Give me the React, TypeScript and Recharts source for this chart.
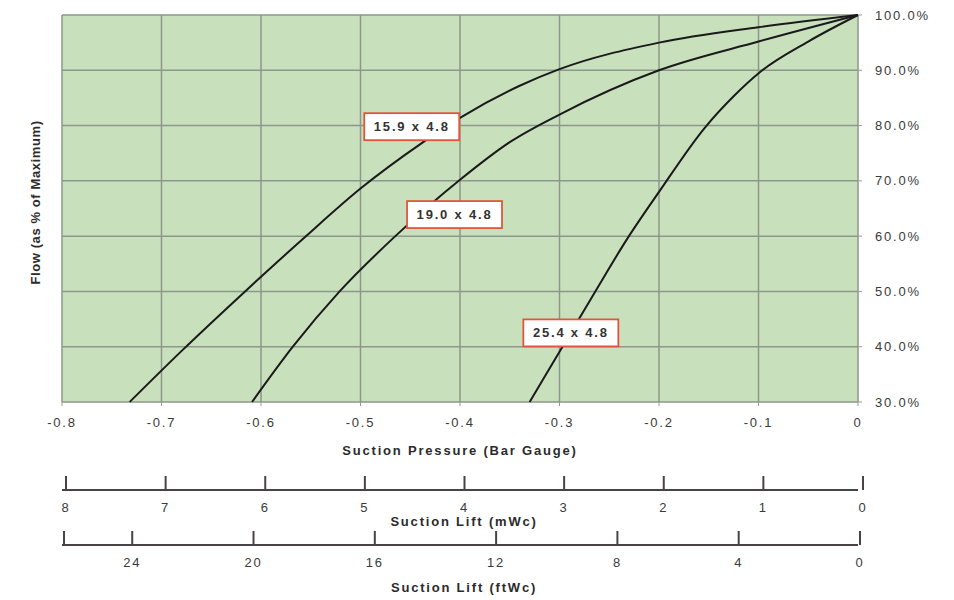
import React from 'react'
import { CartesianGrid, Line, LineChart, ReferenceDot, XAxis, YAxis } from 'recharts'

// suction pressure (bar g) -> flow (% of max), one list per nozzle size
const curve159 = [
  { p: -0.732, f: 30 }, { p: -0.68, f: 39.2 }, { p: -0.616, f: 50 }, { p: -0.556, f: 59.8 },
  { p: -0.5, f: 68.6 }, { p: -0.437, f: 77 }, { p: -0.4, f: 81.4 }, { p: -0.34, f: 87.2 },
  { p: -0.3, f: 90.2 }, { p: -0.2, f: 95 }, { p: -0.1, f: 97.8 }, { p: 0, f: 100 },
]
const curve190 = [
  { p: -0.609, f: 30 }, { p: -0.568, f: 40 }, { p: -0.521, f: 50 }, { p: -0.465, f: 60 },
  { p: -0.4, f: 70.2 }, { p: -0.35, f: 77 }, { p: -0.3, f: 82 }, { p: -0.2, f: 90 },
  { p: -0.1, f: 95.2 }, { p: 0, f: 100 },
]
const curve254 = [
  { p: -0.33, f: 30 }, { p: -0.297, f: 40 }, { p: -0.264, f: 50 }, { p: -0.232, f: 59.5 },
  { p: -0.2, f: 68 }, { p: -0.154, f: 79.6 }, { p: -0.125, f: 85.3 }, { p: -0.099, f: 89.6 },
  { p: -0.05, f: 95.2 }, { p: 0, f: 100 },
]

const pressureTicks = [-0.8, -0.7, -0.6, -0.5, -0.4, -0.3, -0.2, -0.1, 0]
const flowTicks = [30, 40, 50, 60, 70, 80, 90, 100]
const mwcTicks = [0, 1, 2, 3, 4, 5, 6, 7, 8]
const ftTicks = [0, 4, 8, 12, 16, 20, 24]
const ftEnd = 26.25

const sizeNames = ['15.9 x 4.8', '19.0 x 4.8', '25.4 x 4.8']
const sizeLabelP = [-0.4485, -0.4055, -0.2886]
const sizeLabelF = [79.8, 63.9, 42.5]

// the lift scales carry no series, so they get an empty one to hang the axis on
const mwcRows = mwcTicks.map((m) => ({ m }))
const ftRows = [...ftTicks, ftEnd].map((ft) => ({ ft }))

const ink = '#3a3a3a'
const rule = '#4a4343'

function LiftTick({ x, y, payload, hide }: any) {
  return (
    <g>
      <line x1={x} x2={x} y1={y - 14} y2={y} stroke={rule} strokeWidth={2} />
      {payload.value !== hide && (
        <text x={x} y={y + 22} textAnchor="middle" fontSize={13} fill={ink}>{payload.value}</text>
      )}
    </g>
  )
}

function AxisTitle({ viewBox, text, dy, dx = 0 }: any) {
  const vb = viewBox ?? { x: 0, y: 0, width: 0, height: 0 }
  return (
    <text x={vb.x + vb.width / 2 + dx} y={vb.y + dy} textAnchor="middle" fontSize={13} fontWeight="bold" fill="#2b2b2b">
      {text}
    </text>
  )
}

function FlowTitle({ viewBox }: any) {
  const vb = viewBox ?? { x: 0, y: 0, width: 0, height: 0 }
  const cx = vb.x + 35
  const cy = vb.y + vb.height / 2 - 6
  return (
    <text x={cx} y={cy} transform={`rotate(-90, ${cx}, ${cy})`} textAnchor="middle" dominantBaseline="central"
      fontSize={13} fontWeight="bold" fill="#2b2b2b" style={{ letterSpacing: '0.6px' }}>
      Flow (as % of Maximum)
    </text>
  )
}

function SizeBox({ cx, cy, text }: any) {
  return (
    <g>
      <rect x={cx - 47.5} y={cy - 13.5} width={95} height={27} fill="#fff" stroke="#e2553b" strokeWidth={1.8} />
      <text x={cx} y={cy} textAnchor="middle" dominantBaseline="central" fontSize={13} fontWeight="bold" fill="#333">
        {text}
      </text>
    </g>
  )
}

export default function App() {
  return (
    <div style={{ position: 'absolute', left: 0, top: 0, fontFamily: '"Liberation Sans", Arial, sans-serif', letterSpacing: '1.8px' }}>
      <LineChart width={954} height={600} margin={{ top: 15, right: 0, bottom: 0, left: 0 }}>
        <CartesianGrid fill="#c9e0bd" stroke="#8d978b" strokeWidth={1.5} />
        <XAxis
          type="number" dataKey="p" domain={[-0.8, 0]} ticks={pressureTicks} interval={0} height={88}
          tickFormatter={(v: number) => (v === 0 ? '0' : v.toFixed(1))}
          tick={{ fontSize: 13, fill: ink }} tickSize={4} tickMargin={12}
          tickLine={{ stroke: '#999' }} axisLine={false}
          label={<AxisTitle text="Suction Pressure (Bar Gauge)" dy={52.5} />}
        />
        <XAxis
          xAxisId="lift1" type="number" dataKey="m" domain={[0, 8]} allowDataOverflow reversed ticks={mwcTicks} interval={0} height={55}
          padding={{ left: 4, right: -5 }} tickSize={0} tickMargin={0} tickLine={false}
          axisLine={{ stroke: rule, strokeWidth: 2 }}
          tick={(props: any) => <LiftTick {...props} />}
          label={<AxisTitle text="Suction Lift (mWc)" dy={35.5} dx={4} />}
        />
        <XAxis
          xAxisId="lift2" type="number" dataKey="ft" domain={[0, ftEnd]} allowDataOverflow reversed ticks={[...ftTicks, ftEnd]} interval={0} height={55}
          padding={{ left: 2, right: -2 }} tickSize={0} tickMargin={0} tickLine={false}
          axisLine={{ stroke: rule, strokeWidth: 2 }}
          tick={(props: any) => <LiftTick {...props} hide={ftEnd} />}
          label={<AxisTitle text="Suction Lift (ftWc)" dy={46.5} dx={4} />}
        />
        <YAxis
          yAxisId="left" width={62} domain={[30, 100]} tick={false} tickLine={false} axisLine={false}
          label={<FlowTitle />}
        />
        <YAxis
          orientation="right" width={96} domain={[30, 100]} ticks={flowTicks} interval={0}
          tickFormatter={(v: number) => `${v.toFixed(1)}%`}
          tick={{ fontSize: 13, fill: ink, textAnchor: 'start' }} tickSize={4} tickMargin={13}
          tickLine={{ stroke: '#999' }} axisLine={false}
        />
        <Line data={curve159} dataKey="f" type="monotone" stroke="#1a1a1a" strokeWidth={2} dot={false} isAnimationActive={false} />
        <Line data={curve190} dataKey="f" type="monotone" stroke="#1a1a1a" strokeWidth={2} dot={false} isAnimationActive={false} />
        <Line data={curve254} dataKey="f" type="monotone" stroke="#1a1a1a" strokeWidth={2} dot={false} isAnimationActive={false} />
        <Line xAxisId="lift1" data={mwcRows} dataKey="f" stroke="none" dot={false} activeDot={false} isAnimationActive={false} />
        <Line xAxisId="lift2" data={ftRows} dataKey="f" stroke="none" dot={false} activeDot={false} isAnimationActive={false} />
        {sizeNames.map((name, i) => (
          <ReferenceDot
            key={name} x={sizeLabelP[i]} y={sizeLabelF[i]} r={0}
            shape={(props: any) => <SizeBox cx={props.cx} cy={props.cy} text={name} />}
          />
        ))}
      </LineChart>
    </div>
  )
}
